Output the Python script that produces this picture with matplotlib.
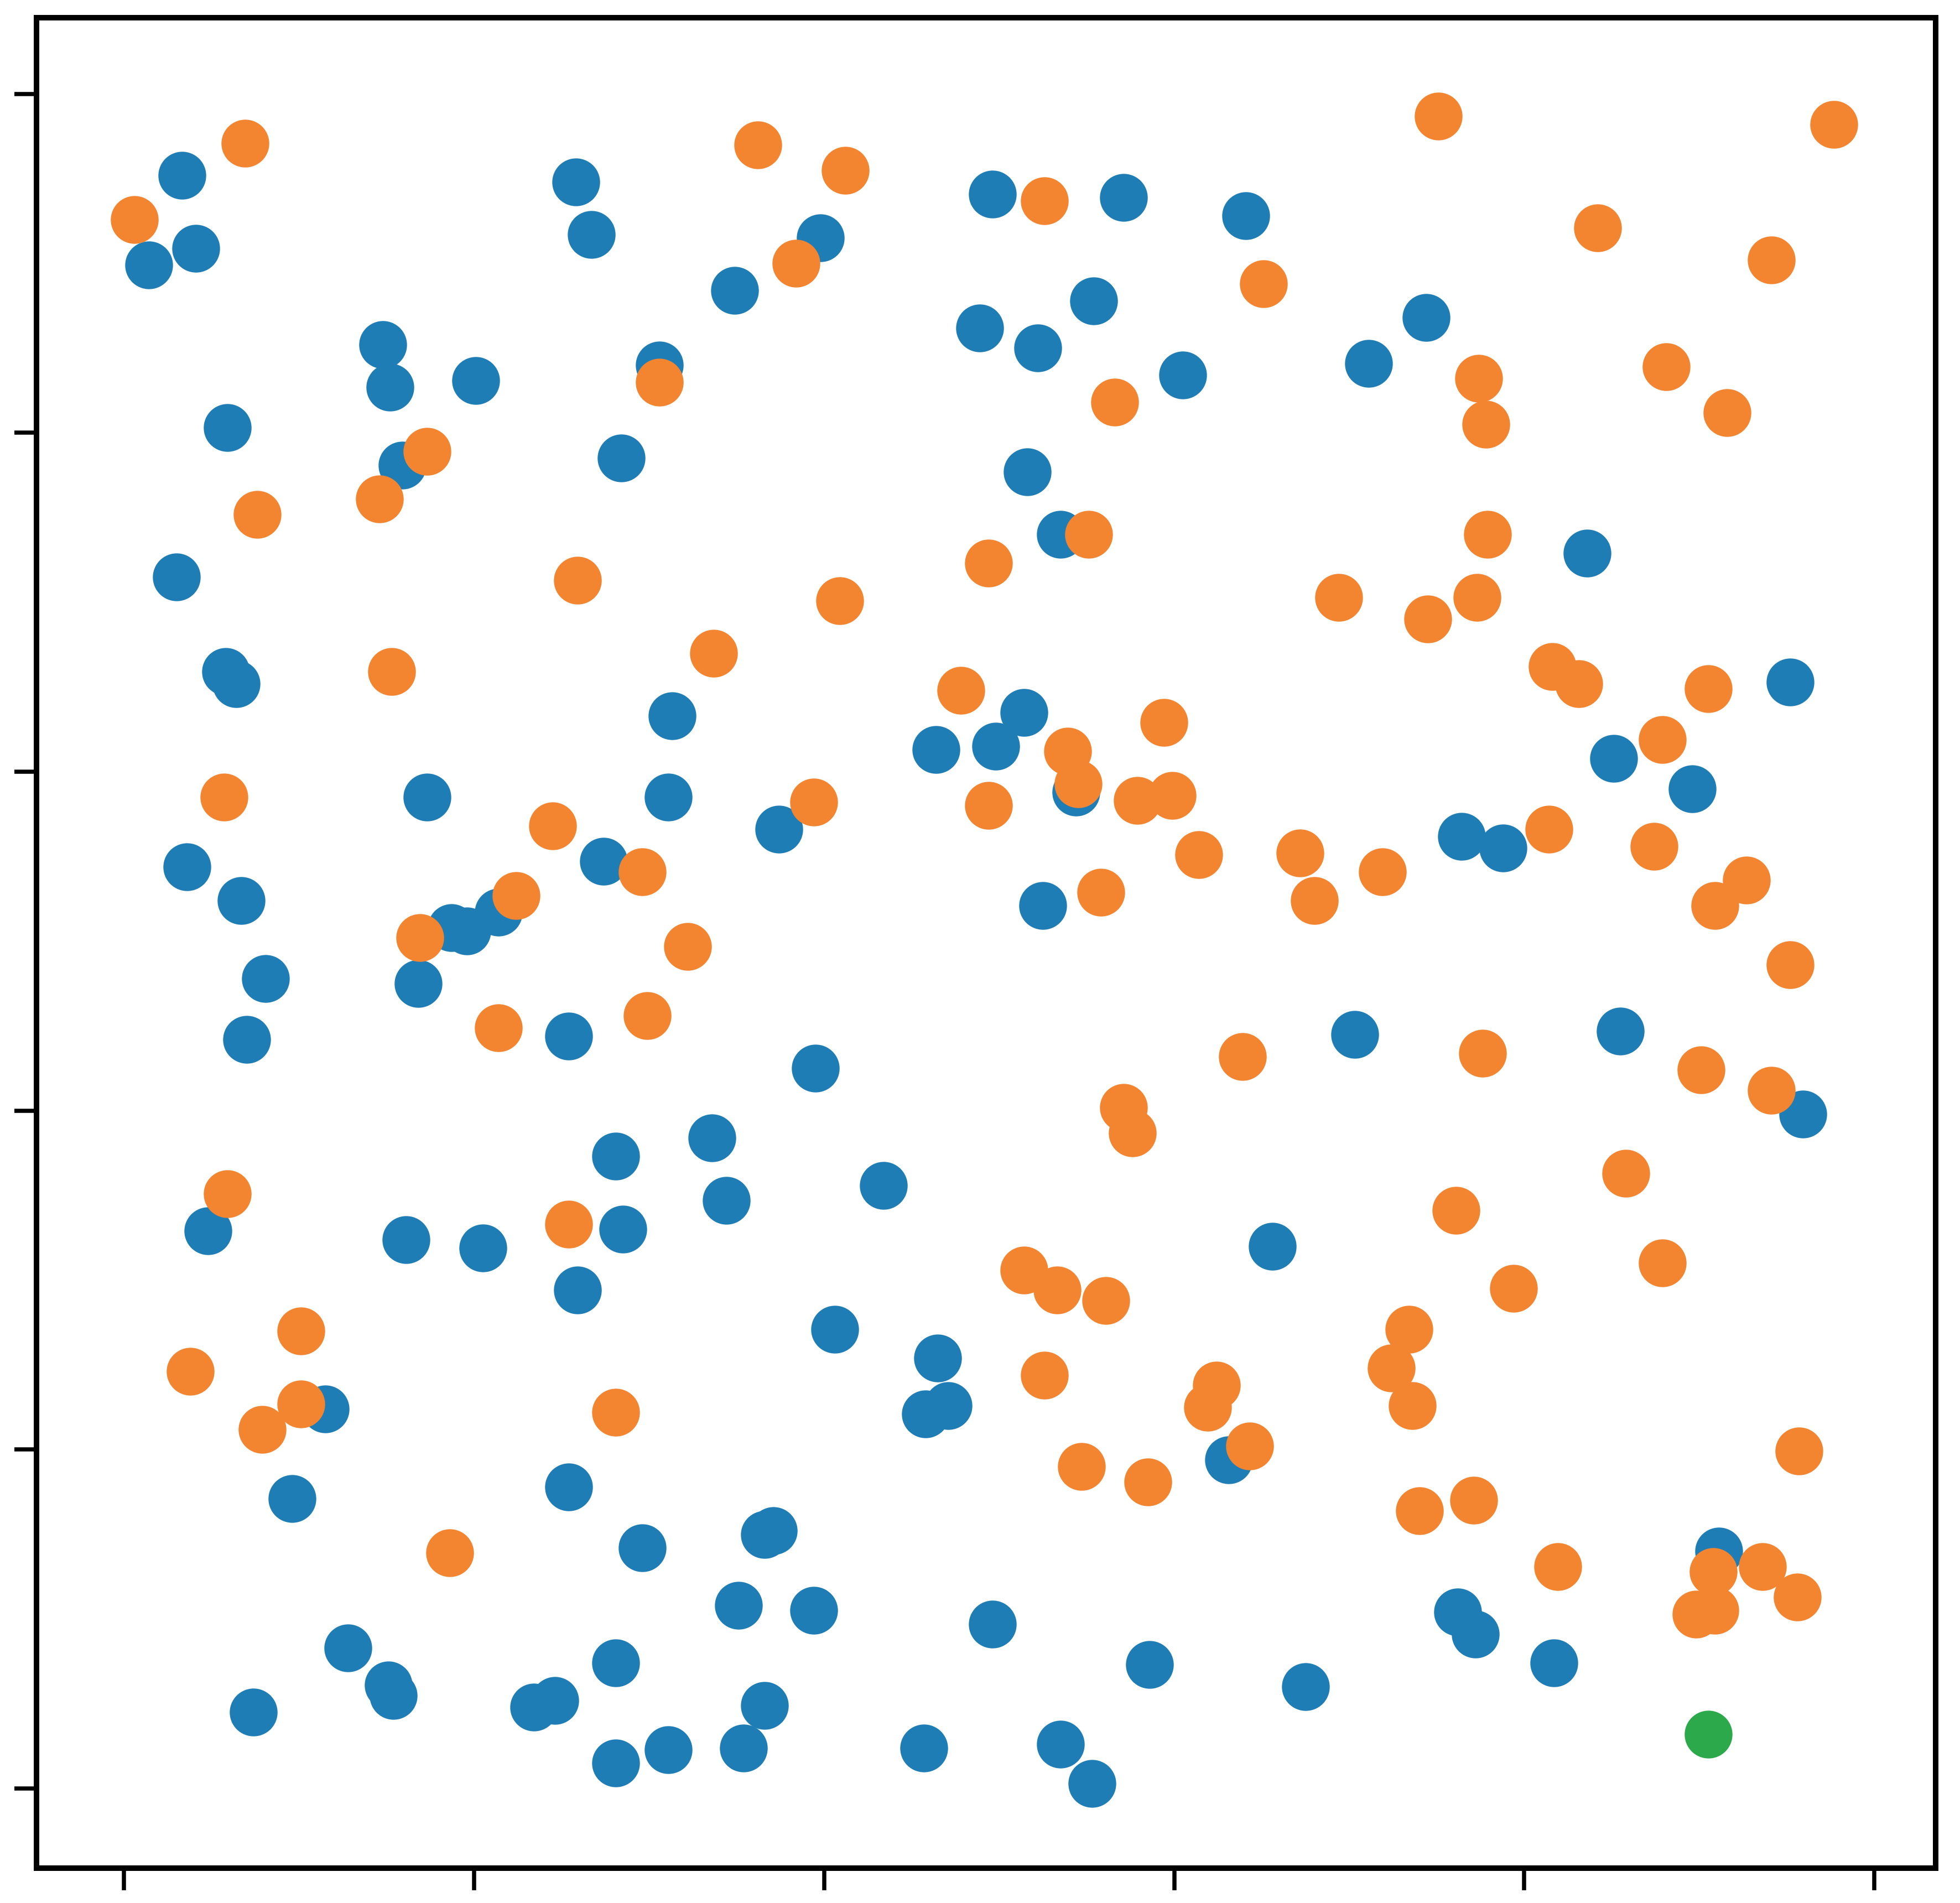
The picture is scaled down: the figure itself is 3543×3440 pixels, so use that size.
import matplotlib
matplotlib.use("Agg")
import matplotlib.pyplot as plt

# ---- data (axis ticks at 0, 0.2, ..., 1.0) ----
blue_x = [0.033, 0.014, 0.041, 0.148, 0.152, 0.201, 0.059, 0.159, 0.030, 0.258,
          0.267, 0.398, 0.349, 0.306, 0.284, 0.489, 0.496, 0.571, 0.554, 0.522,
          0.605, 0.641, 0.711, 0.744, 0.516, 0.535, 0.836, 0.952, 0.058, 0.064,
          0.173, 0.036, 0.067, 0.081, 0.070, 0.168, 0.187, 0.196, 0.214, 0.274,
          0.254, 0.313, 0.311, 0.374, 0.395, 0.514, 0.464, 0.498, 0.544, 0.525,
          0.764, 0.788, 0.851, 0.896, 0.703, 0.855, 0.959, 0.048, 0.161, 0.205,
          0.281, 0.285, 0.259, 0.336, 0.344, 0.434, 0.115, 0.096, 0.406, 0.254,
          0.296, 0.128, 0.151, 0.154, 0.074, 0.234, 0.246, 0.281, 0.281, 0.311,
          0.351, 0.366, 0.371, 0.366, 0.354, 0.394, 0.465, 0.458, 0.471, 0.496,
          0.457, 0.535, 0.553, 0.586, 0.656, 0.631, 0.675, 0.762, 0.772, 0.817,
          0.911]
blue_y = [0.952, 0.899, 0.909, 0.852, 0.827, 0.831, 0.803, 0.781, 0.715, 0.948,
          0.917, 0.915, 0.884, 0.840, 0.785, 0.862, 0.941, 0.939, 0.878, 0.850,
          0.834, 0.928, 0.841, 0.868, 0.777, 0.740, 0.729, 0.653, 0.659, 0.652,
          0.585, 0.544, 0.524, 0.478, 0.442, 0.475, 0.508, 0.506, 0.517, 0.547,
          0.444, 0.633, 0.585, 0.566, 0.425, 0.635, 0.613, 0.615, 0.588, 0.521,
          0.562, 0.555, 0.608, 0.590, 0.445, 0.447, 0.398, 0.329, 0.324, 0.319,
          0.373, 0.330, 0.294, 0.384, 0.347, 0.356, 0.224, 0.171, 0.271, 0.178,
          0.142, 0.083, 0.061, 0.055, 0.045, 0.048, 0.052, 0.074, 0.015, 0.023,
          0.108, 0.150, 0.152, 0.049, 0.024, 0.105, 0.254, 0.221, 0.226, 0.097,
          0.024, 0.026, 0.003, 0.073, 0.320, 0.194, 0.060, 0.104, 0.091, 0.074,
          0.140]

orange_x = [0.006, 0.069, 0.173, 0.146, 0.076, 0.362, 0.412, 0.384, 0.306, 0.259,
            0.409, 0.337, 0.526, 0.566, 0.651, 0.751, 0.774, 0.778, 0.551, 0.494,
            0.694, 0.745, 0.773, 0.779, 0.977, 0.842, 0.941, 0.881, 0.916, 0.816,
            0.831, 0.905, 0.153, 0.057, 0.169, 0.224, 0.245, 0.296, 0.322, 0.214,
            0.299, 0.394, 0.478, 0.494, 0.539, 0.545, 0.594, 0.579, 0.599, 0.614,
            0.558, 0.672, 0.680, 0.719, 0.814, 0.879, 0.874, 0.927, 0.909, 0.952,
            0.639, 0.776, 0.901, 0.941, 0.571, 0.576, 0.059, 0.254, 0.038, 0.101,
            0.101, 0.079, 0.281, 0.186, 0.514, 0.533, 0.561, 0.526, 0.547, 0.585,
            0.624, 0.619, 0.643, 0.734, 0.724, 0.736, 0.740, 0.761, 0.794, 0.771,
            0.819, 0.858, 0.879, 0.957, 0.908, 0.936, 0.956, 0.898, 0.909]
orange_y = [0.926, 0.971, 0.789, 0.761, 0.752, 0.970, 0.955, 0.900, 0.830, 0.713,
            0.701, 0.670, 0.937, 0.818, 0.888, 0.987, 0.832, 0.805, 0.740, 0.723,
            0.703, 0.690, 0.703, 0.740, 0.982, 0.921, 0.902, 0.839, 0.812, 0.662,
            0.652, 0.649, 0.659, 0.585, 0.502, 0.527, 0.568, 0.541, 0.497, 0.449,
            0.456, 0.582, 0.648, 0.580, 0.612, 0.593, 0.629, 0.583, 0.586, 0.551,
            0.529, 0.552, 0.524, 0.541, 0.566, 0.619, 0.556, 0.536, 0.521, 0.486,
            0.432, 0.434, 0.424, 0.412, 0.402, 0.387, 0.351, 0.333, 0.246, 0.270,
            0.227, 0.212, 0.222, 0.139, 0.306, 0.294, 0.288, 0.244, 0.190, 0.181,
            0.238, 0.225, 0.202, 0.271, 0.248, 0.226, 0.164, 0.341, 0.295, 0.170,
            0.131, 0.363, 0.310, 0.199, 0.128, 0.131, 0.113, 0.103, 0.105]

green_x = [0.905]
green_y = [0.032]

ticks = [0.0, 0.2, 0.4, 0.6, 0.8, 1.0]

# ---- figure ----
fig = plt.figure(figsize=(3543 / 300, 3440 / 300), dpi=300)
ax = fig.add_axes([0.01863, 0.01831, 0.98758 - 0.01863, 0.9907 - 0.01831])

ms = 430
ax.scatter(blue_x, blue_y, s=ms, c="#1f7db6", linewidths=0, zorder=2)
ax.scatter(orange_x, orange_y, s=ms, c="#f38430", linewidths=0, zorder=3)
ax.scatter(green_x, green_y, s=ms, c="#2caa4b", linewidths=0, zorder=4)

ax.set_xlim(-0.05, 1.035)
ax.set_ylim(-0.047, 1.045)
ax.set_xticks(ticks)
ax.set_yticks(ticks)
ax.set_xticklabels([])
ax.set_yticklabels([])
ax.tick_params(direction="out", length=9.5, width=1.8, color="black")
for sp in ax.spines.values():
    sp.set_linewidth(2.4)
    sp.set_color("black")

fig.savefig("out.png", dpi=300)
